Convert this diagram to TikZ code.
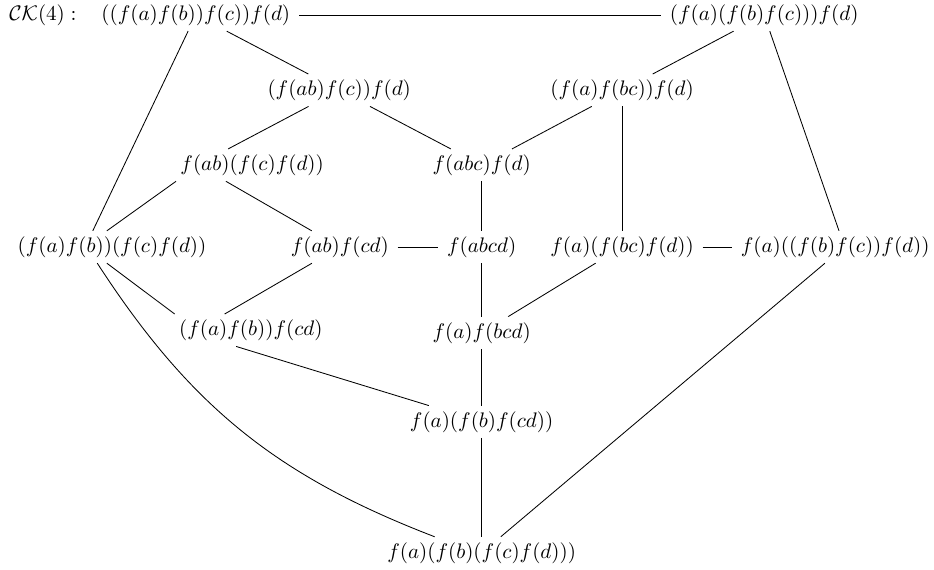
\documentclass[tikz,border=0pt]{standalone}
\usepackage{amsmath}
\usetikzlibrary{positioning}

\begin{document}
\begin{tikzpicture}[
      vx/.style={inner xsep=4pt, inner ysep=2.5pt},
      edge/.style={line width=0.4pt}]
    \useasboundingbox (0,0) rectangle (15.601,-9.506);
    % Row 1
    \node[vx] (name) at (0.718,-0.250)  {$\mathcal{CK}(4):$};
    \node[vx] (lt)   at (3.271,-0.250)  {$((f(a)f(b))f(c))f(d)$};
    \node[vx] (rt)   at (12.764,-0.250) {$(f(a)(f(b)f(c)))f(d)$};
    % Row 2
    \node[vx] (ab)   at (5.666,-1.507)  {$(f(ab)f(c))f(d)$};
    \node[vx] (bc)   at (10.391,-1.507) {$(f(a)f(bc))f(d)$};
    % Row 3
    \node[vx] (abR)  at (4.212,-2.758)  {$f(ab)(f(c)f(d))$};
    \node[vx] (abc)  at (8.045,-2.758)  {$f(abc)f(d)$};
    % Row 4
    \node[vx] (split) at (1.871,-4.126)  {$(f(a)f(b))(f(c)f(d))$};
    \node[vx] (abxcd) at (5.676,-4.126)  {$f(ab)f(cd)$};
    \node[vx] (abcd)  at (8.045,-4.126)  {$f(abcd)$};
    \node[vx] (bcR)   at (10.391,-4.126) {$f(a)(f(bc)f(d))$};
    \node[vx] (rmid)  at (13.950,-4.126) {$f(a)((f(b)f(c))f(d))$};
    % Row 5
    \node[vx] (cd)   at (4.190,-5.516) {$(f(a)f(b))f(cd)$};
    \node[vx] (bcd)  at (8.045,-5.559) {$f(a)f(bcd)$};
    % Rows 6 and 7
    \node[vx] (bxcd) at (8.045,-7.045) {$f(a)(f(b)f(cd))$};
    \node[vx] (bot)  at (8.045,-9.236) {$f(a)(f(b)(f(c)f(d)))$};
    % Edges
    \draw[edge] (lt) -- (rt);
    \draw[edge] (lt) -- (ab);
    \draw[edge] (lt) -- ([xshift=-0.321cm]split.north);
    \draw[edge] (rt) -- (bc);
    \draw[edge] (rt) -- ([xshift=0.064cm]rmid.north);
    \draw[edge] (ab) -- ([xshift=-0.401cm]abR.north);
    \draw[edge] (ab) -- (abc);
    \draw[edge] (bc) -- (abc);
    \draw[edge] (bc) -- (bcR);
    \draw[edge] ([xshift=-1.272cm]abR.south) -- ([xshift=-0.086cm]split.north);
    \draw[edge] ([xshift=-0.438cm]abR.south) -- (abxcd);
    \draw[edge] (abc) -- (abcd);
    \draw[edge] (abxcd) -- (abcd);
    \draw[edge] (bcR) -- (rmid);
    \draw[edge] ([xshift=-0.086cm]split.south) -- ([xshift=-1.272cm]cd.north);
    \draw[edge] (abxcd) -- ([xshift=-0.438cm]cd.north);
    \draw[edge] ([xshift=-0.246cm]split.south) to[bend right=18] (bot);
    \draw[edge] (abcd) -- (bcd);
    \draw[edge] (bcR) -- (bcd);
    \draw[edge] ([xshift=-0.246cm]cd.south) -- (bxcd);
    \draw[edge] (bcd) -- (bxcd);
    \draw[edge] (bxcd) -- (bot);
    \draw[edge] ([xshift=-0.171cm]rmid.south) -- (bot);
  \end{tikzpicture}
\end{document}
